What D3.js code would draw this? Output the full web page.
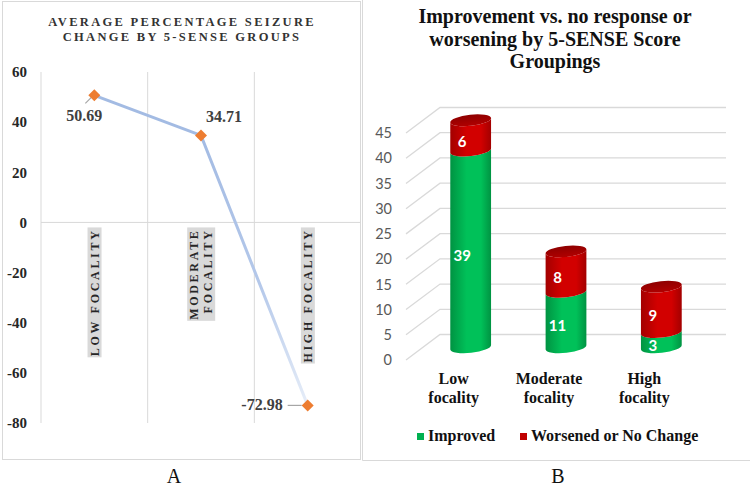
<!DOCTYPE html>
<html>
<head>
<meta charset="utf-8">
<script src="https://cdn.jsdelivr.net/npm/d3@7"></script>
<style>
  body { margin: 0; background: #fff; }
  svg { display: block; }
</style>
</head>
<body>
<div id="chart"></div>
<script>
// ---- panel A data
const groupsA = [["LOW FOCALITY"], ["MODERATE", "FOCALITY"], ["HIGH FOCALITY"]];
const seizureChange = [50.69, 34.71, -72.98];
const ticksA = [60, 40, 20, 0, -20, -40, -60, -80];
const titleA = ["AVERAGE PERCENTAGE SEIZURE", "CHANGE BY 5-SENSE GROUPS"];

// ---- panel B data
const groupsB = [["Low", "focality"], ["Moderate", "focality"], ["High", "focality"]];
const improved = [39, 11, 3];
const worsened = [6, 8, 9];
const ticksB = [0, 5, 10, 15, 20, 25, 30, 35, 40, 45];
const seriesB = ["Improved", "Worsened or No Change"];
const titleB = ["Improvement vs. no response or", "worsening by 5-SENSE Score", "Groupings"];

const width = 750, height = 488;
const serif = "'Liberation Serif', 'Times New Roman', serif";
const sans = "Lato, 'Open Sans', sans-serif";
const grid = "#d9d9d9";

const svg = d3.select("#chart").append("svg")
    .attr("width", width)
    .attr("height", height);

// panel frames
svg.append("rect")
    .attr("x", 2.5).attr("y", 1.5)
    .attr("width", 358).attr("height", 458)
    .attr("fill", "none").attr("stroke", grid);
svg.append("path")
    .attr("d", "M362.5,0V460.5H750")
    .attr("fill", "none").attr("stroke", grid);

// ================= Panel A : line chart =================
const xA = d3.scaleBand().domain(d3.range(groupsA.length)).range([41, 361]);
const yA = d3.scaleLinear().domain([-80, 60]).range([423, 72]);
const cxA = i => xA(i) + xA.bandwidth() / 2;

const gA = svg.append("g");

gA.selectAll(".title")
  .data(titleA)
  .join("text")
    .attr("x", 182)
    .attr("y", (d, i) => 26 + i * 14.5)
    .attr("text-anchor", "middle")
    .attr("font-family", serif)
    .attr("font-weight", "bold")
    .attr("font-size", 12.5)
    .attr("letter-spacing", 2.3)
    .attr("fill", "#333")
    .text(d => d);

// vertical gridlines at category edges
gA.selectAll(".vgrid")
  .data(d3.range(groupsA.length))
  .join("line")
    .attr("x1", d => xA(d)).attr("x2", d => xA(d))
    .attr("y1", yA(60)).attr("y2", yA(-80))
    .attr("stroke", grid);

// zero axis line
gA.append("line")
    .attr("x1", 41).attr("x2", 361)
    .attr("y1", yA(0)).attr("y2", yA(0))
    .attr("stroke", grid);

// y tick labels
gA.selectAll(".ytick")
  .data(ticksA)
  .join("text")
    .attr("x", 27)
    .attr("y", d => yA(d))
    .attr("dy", "0.35em")
    .attr("text-anchor", "end")
    .attr("font-family", serif)
    .attr("font-weight", "bold")
    .attr("font-size", 15)
    .attr("fill", "#262626")
    .text(d => d);

// category labels (rotated, grey highlight)
groupsA.forEach((lines, i) => {
  const g = gA.append("g")
      .attr("transform", `translate(${cxA(i)},${yA(0) + 6}) rotate(-90)`);
  const bg = g.append("rect").attr("fill", "#d9d9d9");
  g.selectAll("text")
    .data(lines)
    .join("text")
      .attr("x", 0)
      .attr("y", (d, j) => (j - (lines.length - 1) / 2) * 14)
      .attr("dy", "0.35em")
      .attr("text-anchor", "end")
      .attr("font-family", serif)
      .attr("font-weight", "bold")
      .attr("font-size", 12)
      .attr("letter-spacing", 2.7)
      .attr("fill", "#262626")
      .text(d => d);
  const bb = g.node().getBBox();
  bg.attr("x", bb.x - 1).attr("y", bb.y)
    .attr("width", bb.width + 2).attr("height", bb.height);
});

// line with fading tail
const defs = svg.append("defs");
const lg = defs.append("linearGradient")
    .attr("id", "lineFade")
    .attr("gradientUnits", "userSpaceOnUse")
    .attr("x1", 0).attr("x2", 0)
    .attr("y1", yA(seizureChange[1])).attr("y2", yA(seizureChange[2]));
lg.append("stop").attr("offset", 0).attr("stop-color", "#a3bbe3");
lg.append("stop").attr("offset", 0.55).attr("stop-color", "#b4c8ea");
lg.append("stop").attr("offset", 1).attr("stop-color", "#e6edf8");

const line = d3.line()
    .x((d, i) => cxA(i))
    .y(d => yA(d));

gA.append("path")
    .datum(seizureChange)
    .attr("d", line)
    .attr("fill", "none")
    .attr("stroke", "url(#lineFade)")
    .attr("stroke-width", 3);

// leader lines to labels
const leaders = [[[-9, 8], [-2, 1]], null, [[-20, 0], [-6, 0]]];
leaders.forEach((l, i) => {
  if (!l) return;
  gA.append("line")
      .attr("x1", cxA(i) + l[0][0]).attr("y1", yA(seizureChange[i]) + l[0][1])
      .attr("x2", cxA(i) + l[1][0]).attr("y2", yA(seizureChange[i]) + l[1][1])
      .attr("stroke", "#a6a6a6").attr("stroke-width", 1.2);
});

// diamond markers
gA.selectAll(".marker")
  .data(seizureChange)
  .join("path")
    .attr("d", d3.symbol(d3.symbolSquare, 72))
    .attr("transform", (d, i) => `translate(${cxA(i)},${yA(d)}) rotate(45)`)
    .attr("fill", "#ed7d31");

// value labels
const labelShift = [[-10, 26, "middle"], [5, -13, "start"], [-25, 5, "end"]];
gA.selectAll(".vlabel")
  .data(seizureChange)
  .join("text")
    .attr("x", (d, i) => cxA(i) + labelShift[i][0])
    .attr("y", (d, i) => yA(d) + labelShift[i][1])
    .attr("text-anchor", (d, i) => labelShift[i][2])
    .attr("font-family", serif)
    .attr("font-weight", "bold")
    .attr("font-size", 16)
    .attr("fill", "#404040")
    .text(d => d.toFixed(2));

svg.append("text")
    .attr("x", 174).attr("y", 483)
    .attr("text-anchor", "middle")
    .attr("font-family", serif)
    .attr("font-size", 20)
    .attr("fill", "#111")
    .text("A");

// ================= Panel B : 3D cylinders =================
const gB = svg.append("g");

gB.selectAll(".title")
  .data(titleB)
  .join("text")
    .attr("x", 555)
    .attr("y", (d, i) => 23 + i * 22.5)
    .attr("text-anchor", "middle")
    .attr("font-family", serif)
    .attr("font-weight", "bold")
    .attr("font-size", 20)
    .attr("fill", "#111")
    .text(d => d);

const xB = d3.scaleBand().domain(d3.range(groupsB.length)).range([406, 692]);
const yB = d3.scaleLinear().domain([0, 45]).range([360, 133]);
const depthX = 34, depthY = -25.5;
// project (category, value, depth 0..1) onto the page
const px = (i, d) => xB(i) + xB.bandwidth() / 2 + depthX * d;
const py = (v, d) => yB(v) + depthY * d;

// gridlines: side wall diagonal + back wall
gB.selectAll(".grid")
  .data(ticksB)
  .join("path")
    .attr("d", v => `M406,${yB(v)}L${406 + depthX},${yB(v) + depthY}H${692 + depthX}`)
    .attr("fill", "none")
    .attr("stroke", grid)
    .attr("stroke-width", 1.3);

gB.selectAll(".ytick")
  .data(ticksB)
  .join("text")
    .attr("x", 392)
    .attr("y", v => yB(v))
    .attr("dy", "0.36em")
    .attr("text-anchor", "end")
    .attr("font-family", sans)
    .attr("font-size", 14.5)
    .attr("fill", "#595959")
    .text(v => v);

// cylinder gradients
function bodyGrad(id, dark, light) {
  const g = defs.append("linearGradient").attr("id", id)
      .attr("x1", 0).attr("x2", 1).attr("y1", 0).attr("y2", 0);
  g.append("stop").attr("offset", 0).attr("stop-color", dark);
  g.append("stop").attr("offset", 0.4).attr("stop-color", light);
  g.append("stop").attr("offset", 0.75).attr("stop-color", light);
  g.append("stop").attr("offset", 1).attr("stop-color", dark);
}
bodyGrad("greenBody", "#009342", "#00c159");
bodyGrad("redBody", "#a30000", "#d20000");
const topGrad = defs.append("linearGradient").attr("id", "redTop")
    .attr("x1", 0).attr("x2", 0).attr("y1", 0).attr("y2", 1);
topGrad.append("stop").attr("offset", 0).attr("stop-color", "#8e0000");
topGrad.append("stop").attr("offset", 1).attr("stop-color", "#b00000");

const rx = 20.5, ry = 5.5, tilt = -6;
const sx = rx * Math.cos(tilt * Math.PI / 180);
const sy = rx * Math.sin(tilt * Math.PI / 180);

function bodyPath(cx, yTop, yBot) {
  return `M${cx - sx},${yTop - sy}L${cx - sx},${yBot - sy}` +
    `A${rx},${ry} ${tilt} 0 0 ${cx + sx},${yBot + sy}` +
    `L${cx + sx},${yTop + sy}` +
    `A${rx},${ry} ${tilt} 0 1 ${cx - sx},${yTop - sy}Z`;
}

const stacks = improved.map((v, i) => [
  { key: seriesB[0], i, v0: 0, v1: v, val: v, fill: "url(#greenBody)" },
  { key: seriesB[1], i, v0: v, v1: v + worsened[i], val: worsened[i], fill: "url(#redBody)" }
]);

stacks.forEach(stack => {
  const g = gB.append("g");
  stack.forEach(s => {
    const cx = px(s.i, 0.5);
    g.append("path")
        .attr("d", bodyPath(cx, py(s.v1, 0.5), py(s.v0, 0.5)))
        .attr("fill", s.fill);
  });
  const top = stack[stack.length - 1];
  g.append("ellipse")
      .attr("cx", px(top.i, 0.5)).attr("cy", py(top.v1, 0.5))
      .attr("rx", rx).attr("ry", ry)
      .attr("transform", `rotate(${tilt},${px(top.i, 0.5)},${py(top.v1, 0.5)})`)
      .attr("fill", "url(#redTop)");
  g.selectAll("text")
    .data(stack)
    .join("text")
      .attr("x", s => px(s.i, 0.25))
      .attr("y", s => py((s.v0 + s.v1) / 2, 0.25))
      .attr("dy", "0.36em")
      .attr("text-anchor", "middle")
      .attr("font-family", sans)
      .attr("font-weight", "bold")
      .attr("font-size", 15)
      .attr("fill", "#fff")
      .text(s => s.val);
});

// category labels
groupsB.forEach((lines, i) => {
  gB.append("text")
      .attr("x", px(i, 0)).attr("y", 384)
      .attr("text-anchor", "middle")
      .attr("font-family", serif)
      .attr("font-weight", "bold")
      .attr("font-size", 16)
      .attr("fill", "#111")
    .selectAll("tspan")
    .data(lines)
    .join("tspan")
      .attr("x", px(i, 0))
      .attr("dy", (d, j) => j ? 19 : 0)
      .text(d => d);
});

// legend
const legendX = [417, 520];
const legendFill = ["#00b050", "#c00000"];
const leg = gB.selectAll(".legend")
  .data(seriesB)
  .join("g")
    .attr("transform", (d, i) => `translate(${legendX[i]},441)`);
leg.append("rect")
    .attr("x", 0).attr("y", -8)
    .attr("width", 7).attr("height", 7)
    .attr("fill", (d, i) => legendFill[i]);
leg.append("text")
    .attr("x", 11)
    .attr("font-family", serif)
    .attr("font-weight", "bold")
    .attr("font-size", 16)
    .attr("fill", "#111")
    .text(d => d);

svg.append("text")
    .attr("x", 558).attr("y", 483)
    .attr("text-anchor", "middle")
    .attr("font-family", serif)
    .attr("font-size", 20)
    .attr("fill", "#111")
    .text("B");
</script>
</body>
</html>
